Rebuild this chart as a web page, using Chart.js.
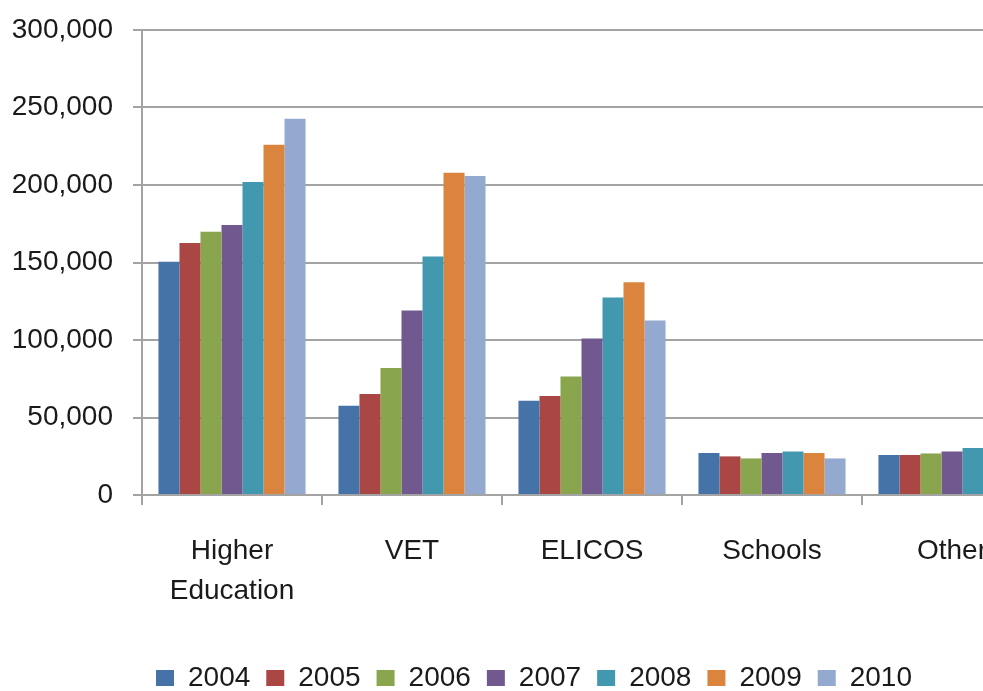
<!DOCTYPE html>
<html>
<head>
<meta charset="utf-8">
<script src="https://cdn.jsdelivr.net/npm/chart.js@4"></script>
<style>
  html, body { margin: 0; padding: 0; background: #ffffff; overflow: hidden; width: 983px; height: 691px; }
  #wrap { position: absolute; left: 0; top: 0; width: 1070px; height: 702px; }
</style>
</head>
<body>
<div id="wrap"><canvas id="c" width="1070" height="702"></canvas></div>
<script>
const categories = [["Higher", "Education"], "VET", "ELICOS", "Schools", "Other"];
const years = ["2004", "2005", "2006", "2007", "2008", "2009", "2010"];
const v2004 = [150500, 57600, 60800, 27100, 25800];
const v2005 = [162600, 65200, 63900, 24900, 25800];
const v2006 = [169900, 81900, 76500, 23600, 26800];
const v2007 = [174200, 119100, 101000, 27100, 28100];
const v2008 = [201900, 153900, 127500, 28100, 30300];
const v2009 = [226000, 207900, 137200, 27100, 31000];
const v2010 = [242800, 205800, 112600, 23600, 30000];
const yTicks = [0, 50000, 100000, 150000, 200000, 250000, 300000];

const seriesValues = [v2004, v2005, v2006, v2007, v2008, v2009, v2010];
const colors = ["#4572A7", "#AA4643", "#89A54E", "#71588F", "#4198AF", "#DB843D", "#93A9CF"];
const gridColor = "#a3a3a3";
const textColor = "#1a1a1a";
const font = { family: "'Liberation Sans', Arial, sans-serif", size: 28 };

const datasets = years.map((y, i) => ({
  label: y,
  data: seriesValues[i],
  backgroundColor: colors[i],
  borderWidth: 0,
  categoryPercentage: 0.817,
  barPercentage: 1.0
}));

const legendShift = {
  id: "legendShift",
  afterLayout(chart) {
    if (chart.legend) { chart.legend.left += 7; chart.legend.right += 7; }
  }
};

new Chart(document.getElementById("c"), {
  type: "bar",
  data: { labels: categories, datasets },
  plugins: [legendShift],
  options: {
    responsive: false,
    animation: false,
    devicePixelRatio: 1,
    layout: { padding: { top: 30, left: 12, right: 28, bottom: 0 } },
    plugins: {
      tooltip: { enabled: false },
      legend: {
        position: "bottom",
        align: "center",
        labels: {
          font: font,
          color: textColor,
          boxWidth: 18,
          boxHeight: 16,
          padding: 16
        }
      }
    },
    scales: {
      x: {
        offset: true,
        grid: {
          offset: true,
          drawOnChartArea: false,
          drawTicks: true,
          tickLength: 10,
          color: gridColor,
          lineWidth: 2
        },
        border: { display: true, color: gridColor, width: 2 },
        ticks: {
          font: { family: font.family, size: 28, lineHeight: 40 / 28 },
          color: textColor,
          padding: 26,
          maxRotation: 0,
          autoSkip: false
        },
        afterFit: (scale) => { scale.height = 153; }
      },
      y: {
        min: 0,
        max: 300000,
        afterBuildTicks: (scale) => { scale.ticks = yTicks.map(v => ({ value: v })); },
        grid: {
          drawTicks: true,
          tickLength: 9,
          color: gridColor,
          lineWidth: 2
        },
        border: { display: true, color: gridColor, width: 2 },
        ticks: {
          font: font,
          color: textColor,
          padding: 20,
          callback: (v) => Number(v).toLocaleString("en-US")
        },
        afterFit: (scale) => { scale.width = 130; scale.paddingTop = 0; scale.paddingBottom = 0; }
      }
    }
  }
});
</script>
</body>
</html>
